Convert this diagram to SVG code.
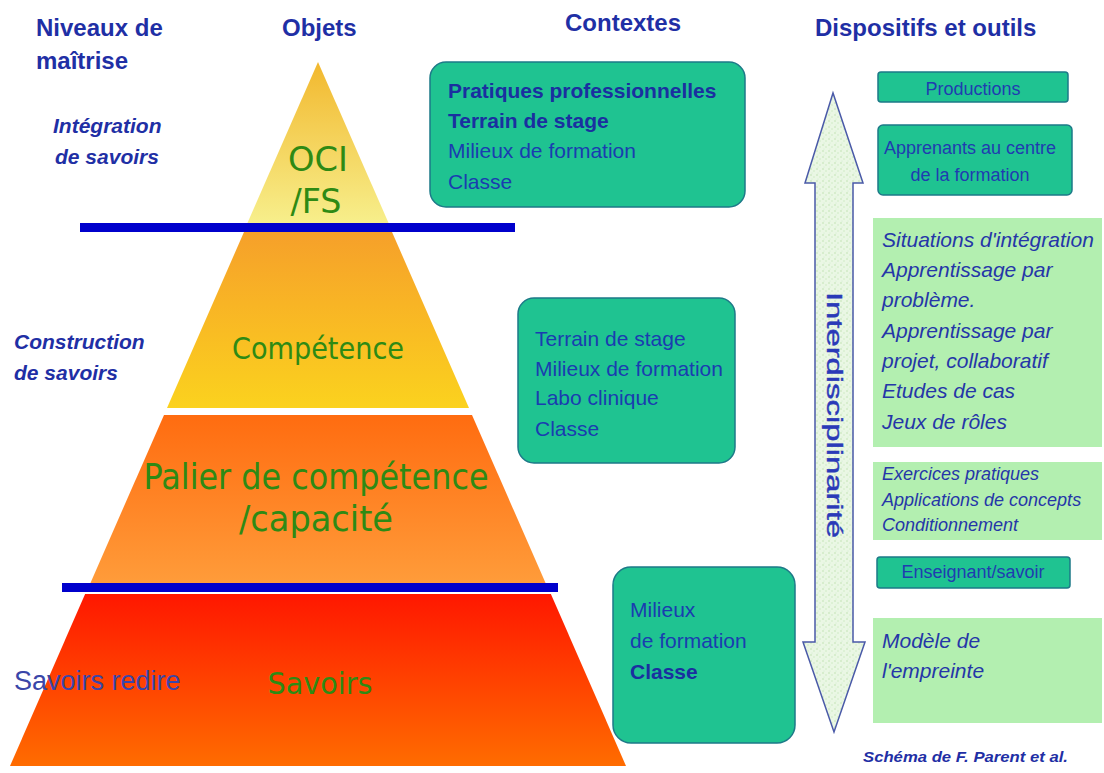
<svg xmlns="http://www.w3.org/2000/svg" width="1104" height="773" viewBox="0 0 1104 773">
<style>
.hdr{font-family:"Liberation Sans",Arial,sans-serif;font-weight:bold;font-size:24px;fill:#1f2fa5}
.lvl{font-family:"Liberation Sans",Arial,sans-serif;font-weight:bold;font-style:italic;font-size:21px;fill:#1f2fa5}
.pyr{font-family:"DejaVu Sans","Liberation Sans",sans-serif;fill:#2e8a14;text-anchor:middle}
.ctx{font-family:"Liberation Sans",Arial,sans-serif;font-size:21px;fill:#1a3cb0}
.ctxb{font-weight:bold;fill:#1a2fa0}
.teal{fill:#1fc391;stroke:#1d7a88;stroke-width:1.5}
.lg{fill:#b3efb0}
.tool{font-family:"Liberation Sans",Arial,sans-serif;font-size:18px;fill:#1f3cb0}
.it{font-family:"Liberation Sans",Arial,sans-serif;font-style:italic;fill:#2536a8}
.sep{fill:#0000cc}
</style>
<defs>
<linearGradient id="gOci" x1="0" y1="0" x2="0" y2="1"><stop offset="0" stop-color="#f2b82e"/><stop offset="1" stop-color="#f7ef8c"/></linearGradient>
<linearGradient id="gComp" x1="0" y1="0" x2="0" y2="1"><stop offset="0" stop-color="#f6a02a"/><stop offset="1" stop-color="#fbd21e"/></linearGradient>
<linearGradient id="gPal" x1="0" y1="0" x2="0" y2="1"><stop offset="0" stop-color="#ff6c10"/><stop offset="1" stop-color="#ff9c3a"/></linearGradient>
<linearGradient id="gSav" x1="0" y1="0" x2="0" y2="1"><stop offset="0" stop-color="#ff1600"/><stop offset="1" stop-color="#ff6c00"/></linearGradient>
<pattern id="speck" width="6" height="6" patternUnits="userSpaceOnUse">
<rect width="6" height="6" fill="#eaf7e4"/>
<circle cx="1" cy="1" r="0.8" fill="#bfe2b0"/>
<circle cx="4" cy="3" r="0.7" fill="#c8e8ba"/>
<circle cx="2" cy="5" r="0.6" fill="#d0ecd0"/>
</pattern>
</defs>
<rect width="1104" height="773" fill="#ffffff"/>

<g id="headers">
<text class="hdr" x="36" y="36">Niveaux de</text>
<text class="hdr" x="36" y="69">maîtrise</text>
<text class="hdr" x="282" y="36">Objets</text>
<text class="hdr" x="565" y="31">Contextes</text>
<text class="hdr" x="815" y="36">Dispositifs et outils</text>
</g>

<g id="levels">
<text class="lvl" x="53" y="133">Intégration</text>
<text class="lvl" x="55" y="164">de savoirs</text>
<text class="lvl" x="14" y="349">Construction</text>
<text class="lvl" x="14" y="380">de savoirs</text>
</g>

<g id="pyramid-oci">
<polygon points="318,62 247,224 389,224" fill="url(#gOci)"/>
<text class="pyr" x="318" y="171" font-size="34" textLength="60" lengthAdjust="spacingAndGlyphs">OCI</text>
<text class="pyr" x="316" y="213" font-size="34" textLength="51" lengthAdjust="spacingAndGlyphs">/FS</text>
</g>
<g id="pyramid-competence">
<polygon points="244,232 392,232 469,408 167,408" fill="url(#gComp)"/>
<text class="pyr" x="318" y="359" font-size="31" textLength="172" lengthAdjust="spacingAndGlyphs">Compétence</text>
</g>
<g id="pyramid-palier">
<polygon points="164,415 472,415 546,584 90,584" fill="url(#gPal)"/>
<text class="pyr" x="316" y="489" font-size="36" textLength="345" lengthAdjust="spacingAndGlyphs">Palier de compétence</text>
<text class="pyr" x="316" y="531" font-size="36" textLength="154" lengthAdjust="spacingAndGlyphs">/capacité</text>
</g>
<g id="pyramid-savoirs">
<polygon points="86,592 550,592 626,766 10,766" fill="url(#gSav)"/>
<text class="pyr" x="320" y="694" font-size="31" textLength="105" lengthAdjust="spacingAndGlyphs">Savoirs</text>
</g>
<g id="savoirs-redire">
<text x="14" y="690" font-family="Liberation Sans, Arial, sans-serif" font-size="27" fill="#3a46a8">Savoirs redire</text>
</g>

<g id="connectors">
<rect class="sep" x="80" y="223" width="435" height="9"/>
<rect x="62" y="592" width="496" height="2" fill="#ffffff"/>
<rect class="sep" x="62" y="583" width="496" height="9"/>
<polygon points="833,93 863,183 853,183 853,642 865,642 834,732 803,642 815,642 815,183 805,183" fill="url(#speck)" stroke="#4a5aa8" stroke-width="1.5" stroke-linejoin="miter"/>
<text transform="translate(827,292) rotate(90)" font-family="Liberation Sans, Arial, sans-serif" font-size="22" fill="#2a3ab8" stroke="#2a3ab8" stroke-width="0.4" textLength="246" lengthAdjust="spacingAndGlyphs">Interdisciplinarité</text>
</g>

<g id="ctx-1">
<rect class="teal" x="430" y="62" width="315" height="145" rx="16"/>
<text class="ctx ctxb" x="448" y="98">Pratiques professionnelles</text>
<text class="ctx ctxb" x="448" y="128">Terrain de stage</text>
<text class="ctx" x="448" y="158">Milieux de formation</text>
<text class="ctx" x="448" y="189">Classe</text>
</g>
<g id="ctx-2">
<rect class="teal" x="518" y="298" width="217" height="165" rx="16"/>
<text class="ctx" x="535" y="346">Terrain de stage</text>
<text class="ctx" x="535" y="376">Milieux de formation</text>
<text class="ctx" x="535" y="405">Labo clinique</text>
<text class="ctx" x="535" y="436">Classe</text>
</g>
<g id="ctx-3">
<rect class="teal" x="613" y="567" width="182" height="176" rx="18"/>
<text class="ctx" x="630" y="617">Milieux</text>
<text class="ctx" x="630" y="648">de formation</text>
<text class="ctx ctxb" x="630" y="679">Classe</text>
</g>

<g id="tool-productions">
<rect class="teal" x="878" y="72" width="190" height="30" rx="3" stroke="#2a6a98"/>
<text class="tool" x="973" y="95" text-anchor="middle">Productions</text>
</g>
<g id="tool-apprenants">
<rect class="teal" x="878" y="125" width="194" height="70" rx="5" stroke="#5a6aa8" stroke-width="2"/>
<text class="tool" x="970" y="154" text-anchor="middle">Apprenants au centre</text>
<text class="tool" x="970" y="181" text-anchor="middle">de la formation</text>
</g>
<g id="tool-situations">
<rect class="lg" x="873" y="218" width="229" height="229"/>
<text class="it" font-size="21" x="882" y="247">Situations d'intégration</text>
<text class="it" font-size="21" x="882" y="277">Apprentissage par</text>
<text class="it" font-size="21" x="882" y="307">problème.</text>
<text class="it" font-size="21" x="882" y="338">Apprentissage par</text>
<text class="it" font-size="21" x="882" y="368">projet, collaboratif</text>
<text class="it" font-size="21" x="882" y="398">Etudes de cas</text>
<text class="it" font-size="21" x="882" y="429">Jeux de rôles</text>
</g>
<g id="tool-exercices">
<rect class="lg" x="873" y="462" width="229" height="78"/>
<text class="it" font-size="18" x="882" y="480">Exercices pratiques</text>
<text class="it" font-size="18" x="882" y="506">Applications de concepts</text>
<text class="it" font-size="18" x="882" y="531">Conditionnement</text>
</g>
<g id="tool-enseignant">
<rect class="teal" x="877" y="557" width="193" height="31" rx="3" stroke="#2a6a98"/>
<text class="tool" x="973" y="578" text-anchor="middle">Enseignant/savoir</text>
</g>
<g id="tool-modele">
<rect class="lg" x="873" y="618" width="229" height="105"/>
<text class="it" font-size="21" x="882" y="648">Modèle de</text>
<text class="it" font-size="21" x="882" y="678">l'empreinte</text>
</g>

<g id="credit">
<text x="863" y="762" font-family="Liberation Sans, Arial, sans-serif" font-weight="bold" font-style="italic" font-size="15" fill="#1f2fa5" textLength="205" lengthAdjust="spacingAndGlyphs">Schéma de F. Parent et al.</text>
</g>
</svg>
